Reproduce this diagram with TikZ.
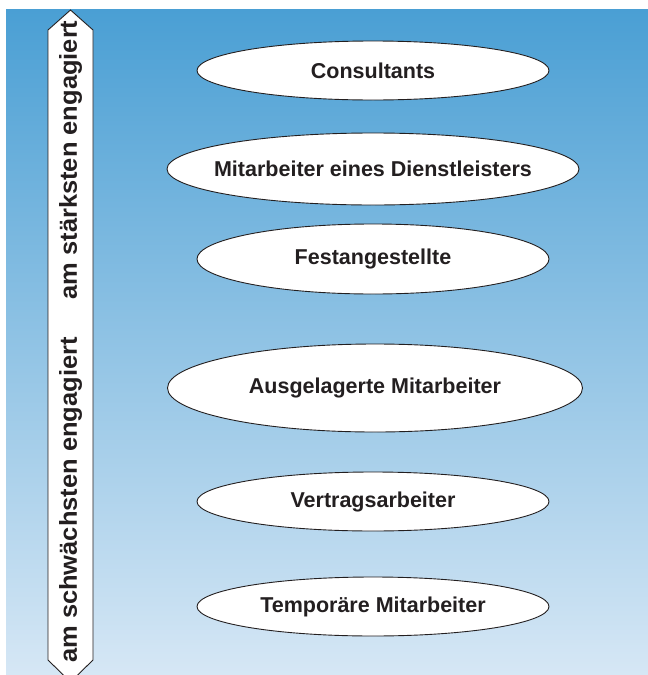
\documentclass[tikz,border=0pt]{standalone}
\usepackage{fontspec}
\setmainfont{Liberation Sans}
\newfontfamily\sidefont{Liberation Sans}[FakeStretch=1.04]
\usetikzlibrary{shapes.geometric}
\definecolor{bgtop}{HTML}{4A9FD4}
\definecolor{bgbottom}{HTML}{D6E7F5}
\definecolor{ink}{HTML}{231F20}

\begin{document}
\begin{tikzpicture}[x=1pt,y=-1pt,
  worker/.style={ellipse,draw=ink,line width=0.9pt,fill=white,inner xsep=-70pt,inner ysep=0pt,
    font=\fontsize{21.5}{24}\selectfont\bfseries,text=ink},
  sidelabel/.style={rotate=90,font=\sidefont\fontsize{24.5}{28}\selectfont\bfseries,text=ink}]
\useasboundingbox (0,0) rectangle (648,675);
\shade[top color=bgtop,bottom color=bgbottom] (6,9) rectangle (648,675);
% scale arrow on the left
\begin{scope}
\clip (0,0) rectangle (648,675);
\draw[ink,line width=0.9pt,fill=white] (70.5,10) -- (93,30) -- (93,660) -- (70.5,682)
  -- (48,660) -- (48,30) -- cycle;
\end{scope}
\node[sidelabel] (strong) at (70.5,160) {am stärksten engagiert};
\node[sidelabel] (weak) at (70.5,500) {am schwächsten engagiert};
% groups
\node[worker,minimum width=352,minimum height=59] (consult) at (373,70.5) {Consultants};
\node[worker,minimum width=412,minimum height=72] (provider) at (373,169) {Mitarbeiter eines Dienstleisters};
\node[worker,minimum width=352,minimum height=70] (perm) at (373,259) {Festangestellte};
\node[worker,minimum width=415,minimum height=88] (outsrc) at (375,388) {Ausgelagerte Mitarbeiter};
\node[worker,minimum width=352,minimum height=59] (contract) at (373,501.5) {Vertragsarbeiter};
\node[worker,minimum width=352,minimum height=59] (temp) at (373,606.5) {Temporäre Mitarbeiter};
\end{tikzpicture}
\end{document}
